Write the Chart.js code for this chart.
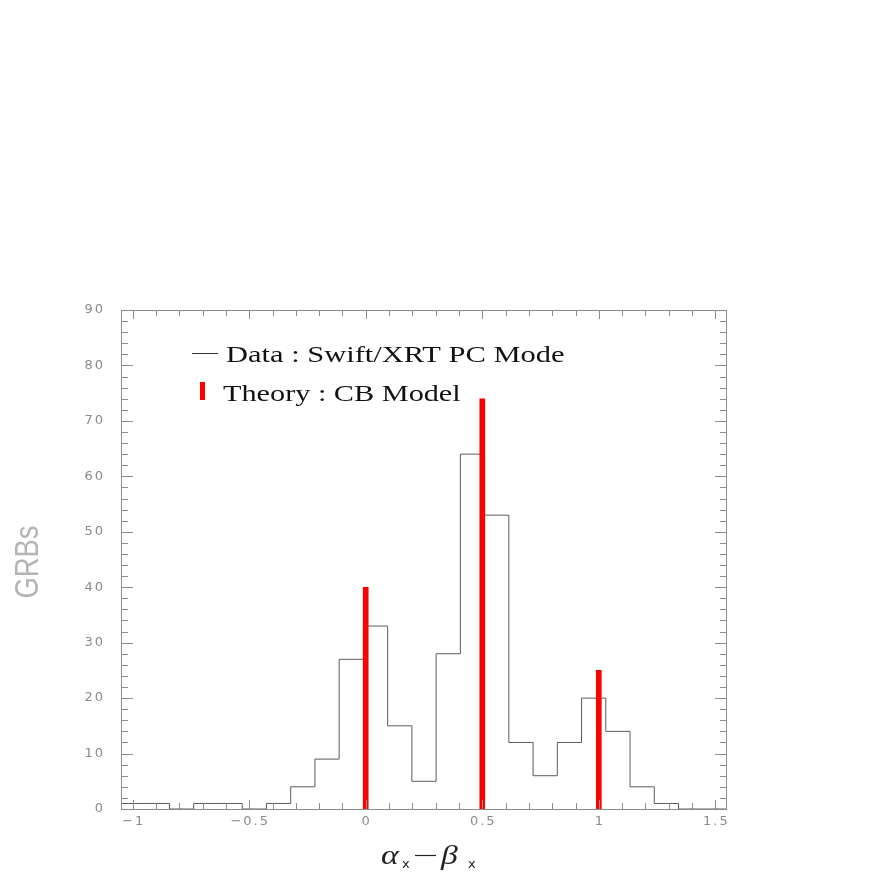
<!DOCTYPE html>
<html>
<head>
<meta charset="utf-8">
<script src="https://cdn.jsdelivr.net/npm/chart.js@4.4.0/dist/chart.umd.min.js"></script>
<style>
  html, body { margin: 0; padding: 0; background: #fff; }
</style>
</head>
<body>
<canvas id="myChart" width="872" height="872"></canvas>
<script>
// histogram bin edges, 25 bins
const binEdges = [
  -1.05, -0.946, -0.842, -0.738, -0.634, -0.53, -0.426, -0.322, -0.218,
  -0.114, -0.01, 0.094, 0.198, 0.302, 0.406, 0.51, 0.614, 0.718, 0.822,
  0.926, 1.03, 1.134, 1.238, 1.342, 1.446, 1.55,
];
// GRBs per bin (Swift/XRT PC mode)
const dataCounts = [
  1, 1, 0, 1, 1, 0, 1, 4, 9, 27, 33, 15, 5, 28, 64, 53, 12, 6, 12, 20, 14, 4,
  1, 0, 0,
];
// CB model predictions
const theoryX = [0, 0.5, 1];
const theoryY = [40, 74, 25];

const xTicks = [-1, -0.5, 0, 0.5, 1, 1.5];
const xTickLabels = ["\u22121", "\u22120.5", "0", "0.5", "1", "1.5"];
const yTicks = [0, 10, 20, 30, 40, 50, 60, 70, 80, 90];

function chart1() {
  const ctx = document.getElementById("myChart").getContext("2d");

  const histPoints = dataCounts.map((c, i) => ({ x: binEdges[i], y: c }));
  histPoints.push({ x: binEdges[binEdges.length - 1], y: 0 });

  const theoryPoints = theoryX.map((v, i) => ({ x: v, y: theoryY[i] }));

  // wide text, the original font is broader than Liberation
  function wideText(c, text, x, y, sx) {
    c.save();
    c.translate(x, y);
    c.scale(sx, 1);
    c.fillText(text, 0, 0);
    c.restore();
  }

  // frame, inward ticks, labels, titles, legend
  const decorations = {
    id: "decorations",
    afterDatasetsDraw(chart) {
      const c = chart.ctx;
      const a = chart.chartArea;
      const x = chart.scales.x;
      const y = chart.scales.y;
      c.save();

      c.strokeStyle = "#8c8c8c";
      c.lineWidth = 1;
      c.strokeRect(a.left + 0.5, a.top + 0.5, a.right - a.left - 1, a.bottom - a.top);

      //ticks
      c.beginPath();
      for (let i = -10; i <= 15; i++) {
        const px = Math.round(x.getPixelForValue(i / 10)) + 0.5;
        const len = i % 5 === 0 ? 9 : 6;
        c.moveTo(px, a.bottom);
        c.lineTo(px, a.bottom - len);
        c.moveTo(px, a.top);
        c.lineTo(px, a.top + len);
      }
      for (let v = 0; v <= 90; v += 2) {
        const py = Math.round(y.getPixelForValue(v)) + 0.5;
        const len = v % 10 === 0 ? 12 : 7;
        c.moveTo(a.left, py);
        c.lineTo(a.left + len, py);
        c.moveTo(a.right, py);
        c.lineTo(a.right - len, py);
      }
      c.stroke();

      //tick labels
      c.fillStyle = "#8a8a8a";
      c.font = '13px "DejaVu Sans"';
      c.letterSpacing = "2px";
      c.textBaseline = "middle";
      c.textAlign = "center";
      xTicks.forEach((v, i) => {
        c.fillText(xTickLabels[i], x.getPixelForValue(v) + 1, a.bottom + 13);
      });
      c.textAlign = "right";
      yTicks.forEach((v) => {
        c.fillText(String(v), a.left - 16, y.getPixelForValue(v));
      });
      c.letterSpacing = "0px";

      //y title
      c.save();
      c.translate(29, 562);
      c.rotate(-Math.PI / 2);
      c.scale(0.83, 1);
      c.fillStyle = "#b4b4b4";
      c.font = '33px "Liberation Sans"';
      c.textAlign = "center";
      c.textBaseline = "middle";
      c.fillText("GRBs", 0, 0);
      c.restore();

      //x title
      c.fillStyle = "#222";
      c.textAlign = "left";
      c.textBaseline = "alphabetic";
      c.font = 'italic 27px "Liberation Serif"';
      wideText(c, "\u03b1", 381, 864, 1.25);
      wideText(c, "\u03b2", 441, 864, 1.25);
      c.font = '13px "DejaVu Sans"';
      c.fillText("x", 402, 868);
      c.fillText("x", 468, 868);
      c.strokeStyle = "#222";
      c.lineWidth = 1.2;
      c.beginPath();
      c.moveTo(415, 855.5);
      c.lineTo(436, 855.5);
      c.stroke();

      //legend
      c.strokeStyle = "#333";
      c.lineWidth = 1;
      c.beginPath();
      c.moveTo(192, 353.5);
      c.lineTo(218, 353.5);
      c.stroke();
      c.fillStyle = "#ff0000";
      c.fillRect(200, 382, 5, 18);
      c.fillStyle = "#111";
      c.font = '24px "Liberation Serif"';
      wideText(c, "Data : Swift/XRT PC Mode", 226, 362, 1.27);
      wideText(c, "Theory : CB Model", 223, 401, 1.26);

      c.restore();
    },
  };

  const data = {
    datasets: [
      {
        type: "bar",
        label: "Theory : CB Model",
        data: theoryPoints,
        backgroundColor: "#ff0000",
        borderWidth: 0,
        barThickness: 5,
      },
      {
        type: "line",
        label: "Data : Swift/XRT PC Mode",
        data: histPoints,
        stepped: true,
        borderColor: "#5a5a5a",
        borderWidth: 1,
        pointRadius: 0,
        fill: false,
      },
    ],
  };

  const config = {
    type: "line",
    data: data,
    options: {
      responsive: false,
      animation: false,
      devicePixelRatio: 1,
      layout: {
        padding: { left: 121, top: 310, right: 145, bottom: 63 },
      },
      plugins: {
        legend: { display: false },
        tooltip: { enabled: false },
      },
      scales: {
        x: {
          type: "linear",
          min: -1.05,
          max: 1.55,
          offset: false,
          display: false,
        },
        y: {
          min: 0,
          max: 90,
          display: false,
        },
      },
    },
    plugins: [decorations],
  };

  const myChart = new Chart(ctx, config);
}

chart1();
</script>
</body>
</html>
